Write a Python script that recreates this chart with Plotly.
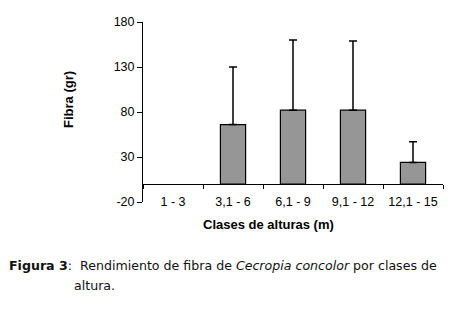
import plotly.graph_objects as go

categories = ["1 - 3", "3,1 - 6", "6,1 - 9", "9,1 - 12", "12,1 - 15"]
fibra = [None, 66, 82, 82, 24]
error_plus = [0, 64, 78, 77, 23]
y_ticks = [-20, 30, 80, 130, 180]
y_tick_labels = ["-20", "30", "80", "130", "180"]

OFF = 8  # default page body margin
W, H = 454 - OFF, 309 - OFF
L, R, T, B = 143 - OFF, 11, 22 - OFF, 107
PW, PH = W - L - R, H - T - B

fig = go.Figure()
fig.add_trace(go.Bar(
    x=categories, y=fibra, width=0.42,
    marker=dict(color="#969696", line=dict(color="black", width=1.2)),
    error_y=dict(type="data", array=error_plus, symmetric=False,
                 arrayminus=[0] * len(fibra), color="black",
                 thickness=1.5, width=4),
))

ymin, ymax = -20, 180


def px_x(x):
    return (x - OFF - L) / PW


def px_y(y):
    return (H - B - (y - OFF)) / PH


fig.update_layout(
    width=W, height=H,
    margin=dict(l=L, r=R, t=T, b=B, autoexpand=False),
    paper_bgcolor="white", plot_bgcolor="white",
    showlegend=False,
    font=dict(family="Liberation Sans, Arial", size=12.5, color="black"),
    xaxis=dict(
        anchor="free", position=(0 - ymin) / (ymax - ymin),
        showline=True, linecolor="black", linewidth=1,
        ticks="outside", tickson="boundaries", ticklen=4, tickcolor="black",
        ticklabelstandoff=6, automargin=False,
        showgrid=False, zeroline=False,
    ),
    yaxis=dict(
        range=[ymin, ymax], tickvals=y_ticks, ticktext=y_tick_labels,
        showline=True, linecolor="black", linewidth=1,
        ticks="outside", ticklen=5, tickcolor="black", automargin=False,
        showgrid=False, zeroline=False,
    ),
    annotations=[
        dict(text="<b>Fibra (gr)</b>", textangle=-90, xref="paper", yref="paper",
             x=px_x(68), y=px_y(100),
             showarrow=False, font=dict(size=13), xanchor="center", yanchor="middle"),
        dict(text="<b>Clases de alturas (m)</b>", xref="paper", yref="paper",
             x=px_x(268), y=px_y(224),
             showarrow=False, font=dict(size=13), xanchor="center", yanchor="middle"),
        dict(text="<b>Figura 3</b>:  Rendimiento de fibra de <i>Cecropia concolor</i> por clases de",
             xref="paper", yref="paper", x=px_x(7), y=px_y(265),
             showarrow=False, font=dict(family="DejaVu Sans", size=12.6, color="#111"),
             xanchor="left", yanchor="middle"),
        dict(text="altura.",
             xref="paper", yref="paper", x=px_x(72), y=px_y(285),
             showarrow=False, font=dict(family="DejaVu Sans", size=12.6, color="#111"),
             xanchor="left", yanchor="middle"),
    ],
)

fig.write_html("out.html")
